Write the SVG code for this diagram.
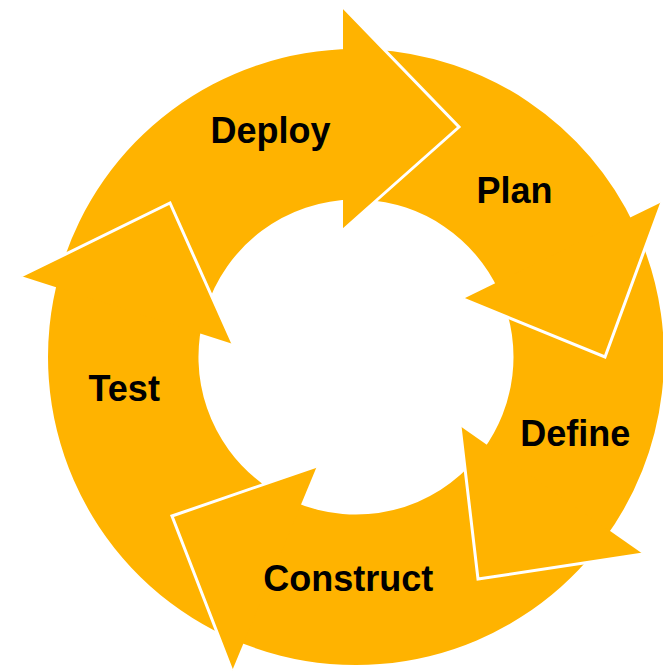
<svg xmlns="http://www.w3.org/2000/svg" width="663" height="672" viewBox="0 0 663 672">
<style>
.band{fill:#FFB300;stroke:none}
.head{fill:#FFB300;stroke:#FFFFFF;stroke-width:3;stroke-linejoin:miter}
.lbl{font-family:"Liberation Sans",Arial,sans-serif;font-weight:bold;font-size:36px;fill:#000000;text-anchor:middle}
</style>
<rect x="0" y="0" width="663" height="672" fill="#FFFFFF"/>
<g id="connectors"></g>
<g id="construct">
<path class="band" d="M 595.4,550.8 A 308 308 0 0 1 233.2,639.5 L 293.2,501.4 A 157.5 157.5 0 0 0 478.4,456.1 Z"/>
<path class="head" d="M 232,671 L 172,516 L 317,466"/>
<text class="lbl" x="348.3" y="591">Construct</text>
</g>
<g id="define">
<path class="band" d="M 639.5,236.7 A 308 308 0 0 1 603.6,540.2 L 482.6,450.7 A 157.5 157.5 0 0 0 501.0,295.5 Z"/>
<path class="head" d="M 643,554 L 478,579 L 460,426"/>
<text class="lbl" x="575.3" y="446">Define</text>
</g>
<g id="plan">
<path class="band" d="M 372.1,49.4 A 308 308 0 0 1 635.1,226.8 L 498.7,290.4 A 157.5 157.5 0 0 0 364.2,199.7 Z"/>
<path class="head" d="M 662,202 L 605,357 L 463,299"/>
<text class="lbl" x="514.5" y="203">Plan</text>
</g>
<g id="deploy">
<path class="band" d="M 61.5,267.0 A 308 308 0 0 1 353.3,49.0 L 354.6,199.5 A 157.5 157.5 0 0 0 205.4,311.0 Z"/>
<path class="head" d="M 343,7 L 459,127 L 343,230"/>
<text class="lbl" x="270.5" y="143">Deploy</text>
</g>
<g id="test">
<path class="band" d="M 214.8,630.7 A 308 308 0 0 1 59.2,274.7 L 204.2,314.9 A 157.5 157.5 0 0 0 262.0,483.4 L 170.0,515.1 Z"/>
<path class="head" d="M 21,276 L 170,203 L 233,344"/>
<text class="lbl" x="124.2" y="401">Test</text>
</g>
</svg>
